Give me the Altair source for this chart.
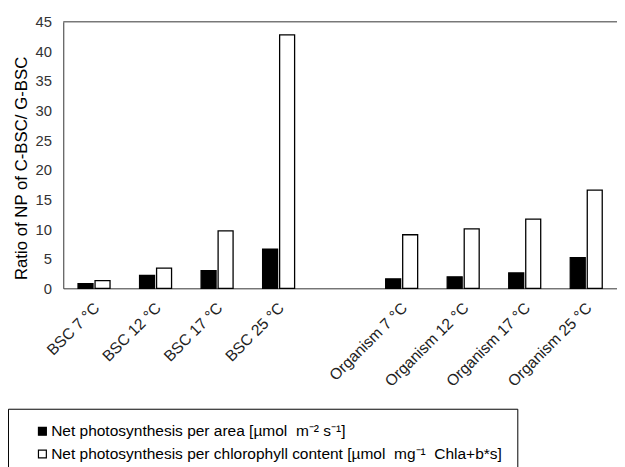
import altair as alt
import pandas as pd

categories = ["BSC 7 °C", "BSC 12 °C", "BSC 17 °C", "BSC 25 °C", " ",
              "Organism 7 °C", "Organism 12 °C", "Organism 17 °C", "Organism 25 °C"]
per_area = [0.8, 2.2, 3.0, 6.6, None, 1.6, 1.95, 2.6, 5.2]
per_chl = [1.3, 3.4, 9.7, 42.8, None, 9.05, 10.05, 11.7, 16.6]
series = ["Net photosynthesis per area [µmol\u00a0\u00a0m⁻² s⁻¹]",
          "Net photosynthesis per chlorophyll content [µmol\u00a0\u00a0mg⁻¹\u00a0\u00a0Chla+b*s]"]
y_ticks = [0, 5, 10, 15, 20, 25, 30, 35, 40, 45]

rows = []
for c, a, b in zip(categories, per_area, per_chl):
    if a is not None:
        rows.append({"cat": c, "series": series[0], "value": a})
    if b is not None:
        rows.append({"cat": c, "series": series[1], "value": b})
df = pd.DataFrame(rows)

FONT = "Liberation Sans"

bars = alt.Chart(df).mark_bar(stroke="black", strokeWidth=1.3).encode(
    x=alt.X("cat:N", sort=categories,
            scale=alt.Scale(domain=categories, paddingInner=0.48, paddingOuter=0.24),
            axis=alt.Axis(title=None, labelAngle=-45, labelAlign="right", labelBaseline="middle",
                          ticks=False, labelPadding=17, labelOffset=3, labelFontSize=15.8,
                          labelColor="#222", domainColor="#333", labelFont=FONT)),
    xOffset=alt.XOffset("series:N", sort=series,
                        scale=alt.Scale(domain=series, paddingInner=0.12)),
    y=alt.Y("value:Q", scale=alt.Scale(domain=[0, 45]),
            axis=alt.Axis(title="Ratio of NP of C-BSC/ G-BSC", values=y_ticks, labelOverlap=False,
                          grid=False, ticks=False, labelPadding=12, labelFontSize=15,
                          labelColor="#333", domainColor="#333", titleFontSize=17,
                          titleFontWeight="normal", titleColor="black", titlePadding=5,
                          titleY=148, labelFont=FONT, titleFont=FONT)),
    fill=alt.Fill("series:N", sort=series,
                  scale=alt.Scale(domain=series, range=["black", "white"]),
                  legend=alt.Legend(title=None, orient="none", legendX=-56, legendY=392,
                                    direction="vertical", symbolType="square", symbolSize=64,
                                    symbolStrokeColor="black", symbolStrokeWidth=1.2,
                                    strokeColor="black", padding=15, symbolOffset=12,
                                    labelFontSize=15.7, labelColor="black", labelFont=FONT,
                                    rowPadding=6, labelOffset=1, labelLimit=700)),
)

top = alt.Chart(pd.DataFrame({"v": [45]})).mark_rule(color="#333", strokeWidth=1).encode(
    y=alt.value(0)
)

chart = alt.layer(bars, top).properties(
    width=561, height=270,
    autosize=alt.AutoSizeParams(type="none"),
    padding={"left": 56, "top": 11, "right": 0, "bottom": 178},
).configure_view(stroke=None)

chart.save("out.html", embed_options={"renderer": "svg", "actions": False})
